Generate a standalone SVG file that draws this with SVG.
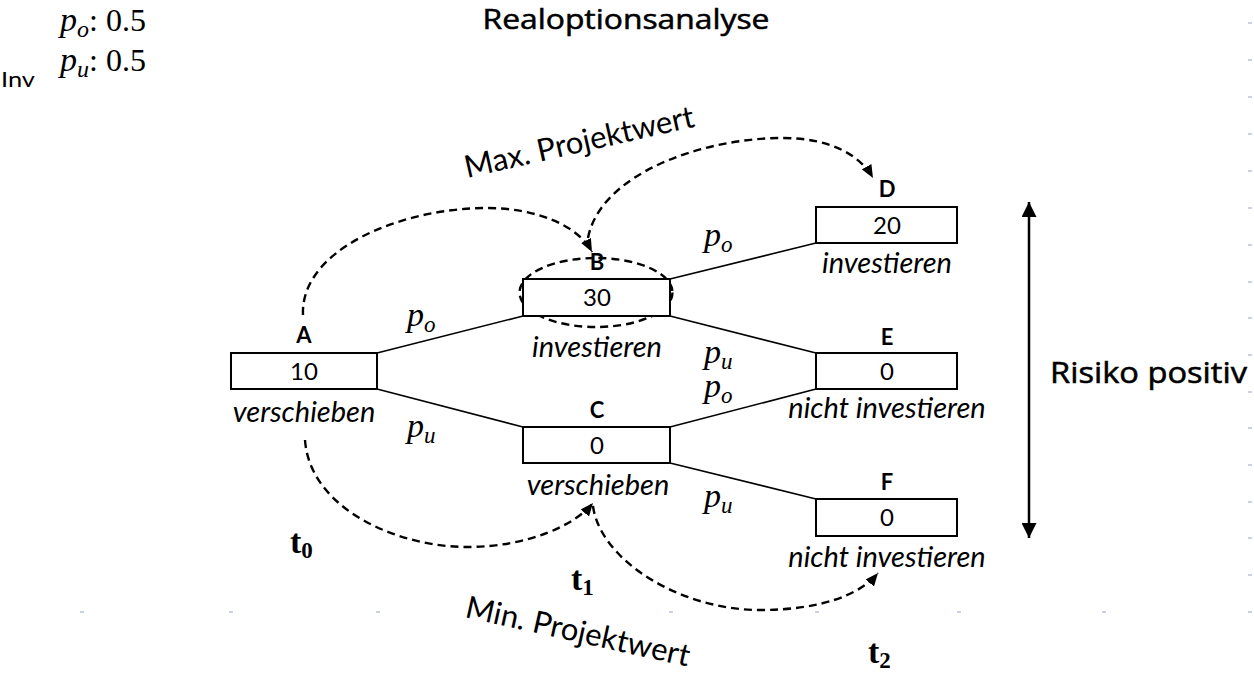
<svg xmlns="http://www.w3.org/2000/svg" width="1254" height="677" viewBox="0 0 1254 677">
  <defs>
    <style>
      .box { fill: #ffffff; stroke: #000000; stroke-width: 2; }
      .edge { fill: none; stroke: #000000; stroke-width: 1.6; }
      .arc { fill: none; stroke: #000000; stroke-width: 2.4; stroke-dasharray: 8 5; }
      .id { font-family: Lato, "Liberation Sans", sans-serif; font-weight: bold; font-size: 22px; text-anchor: middle; fill: #000; }
      .val { font-family: Lato, "Liberation Sans", sans-serif; font-size: 24px; text-anchor: middle; fill: #000; }
      .act { font-family: Lato, "Liberation Sans", sans-serif; font-style: italic; font-size: 29px; text-anchor: middle; fill: #000; }
      .math { font-family: "Liberation Serif", "DejaVu Serif", serif; font-style: italic; font-size: 34px; fill: #000; }
      .num { font-family: "Liberation Serif", "DejaVu Serif", serif; font-style: normal; font-size: 32px; fill: #000; }
      .time { font-family: "Liberation Serif", "DejaVu Serif", serif; font-weight: bold; font-size: 34px; fill: #000; }
      .head { font-family: "Open Sans", "Liberation Sans", sans-serif; font-weight: 400; fill: #000; stroke: #000; stroke-width: 0.55; }
      .note { font-family: Lato, "Liberation Sans", sans-serif; font-size: 31px; fill: #000; }
      .grid { fill: #c9d2e4; }
    </style>
    <marker id="tip" viewBox="0 0 13 11" refX="13" refY="5.5" markerWidth="13" markerHeight="11" markerUnits="userSpaceOnUse" orient="auto">
      <path d="M0,0 L13,5.5 L0,11 z" fill="#000"/>
    </marker>
    <marker id="bigtip" viewBox="0 0 15 15" refX="15" refY="7.5" markerWidth="15" markerHeight="15" markerUnits="userSpaceOnUse" orient="auto-start-reverse">
      <path d="M0,0 L15,7.5 L0,15 z" fill="#000"/>
    </marker>
  </defs>

  <rect x="0" y="0" width="1254" height="677" fill="#ffffff"/>

  <!-- faint slide guide marks -->
  <g id="guides" class="grid">
    <rect x="80" y="611" width="4" height="2"/>
    <rect x="229" y="611" width="4" height="2"/>
    <rect x="376" y="611" width="4" height="2"/>
    <rect x="669" y="611" width="4" height="2"/>
    <rect x="815" y="611" width="4" height="2"/>
    <rect x="957" y="611" width="4" height="2"/>
    <rect x="1102" y="611" width="4" height="2"/>
    <rect x="1248" y="611" width="4" height="2"/>
    <rect x="1248" y="22" width="4" height="2"/>
    <rect x="1248" y="59" width="4" height="2"/>
    <rect x="1248" y="96" width="4" height="2"/>
    <rect x="1248" y="133" width="4" height="2"/>
    <rect x="1248" y="170" width="4" height="2"/>
    <rect x="1248" y="207" width="4" height="2"/>
    <rect x="1248" y="244" width="4" height="2"/>
    <rect x="1248" y="281" width="4" height="2"/>
    <rect x="1248" y="317" width="4" height="2"/>
    <rect x="1248" y="354" width="4" height="2"/>
    <rect x="1248" y="391" width="4" height="2"/>
    <rect x="1248" y="427" width="4" height="2"/>
    <rect x="1248" y="464" width="4" height="2"/>
    <rect x="1248" y="501" width="4" height="2"/>
    <rect x="1248" y="537" width="4" height="2"/>
    <rect x="1248" y="574" width="4" height="2"/>
  </g>

  <!-- title and probabilities -->
  <text class="head" x="626" y="29" font-size="28" text-anchor="middle" textLength="287" lengthAdjust="spacingAndGlyphs">Realoptionsanalyse</text>
  <g id="probabilities">
    <text class="math" x="60" y="31">p<tspan font-size="24" dy="6">o</tspan><tspan class="num" dy="-6">: 0.5</tspan></text>
    <text class="math" x="60" y="71">p<tspan font-size="24" dy="6">u</tspan><tspan class="num" dy="-6">: 0.5</tspan></text>
    <text x="1" y="87" font-family="Lato, 'Liberation Sans', sans-serif" font-size="22" textLength="34" lengthAdjust="spacingAndGlyphs">Inv</text>
  </g>

  <!-- tree edges -->
  <g id="connectors">
    <line class="edge" x1="377" y1="353" x2="523" y2="316"/>
    <line class="edge" x1="377" y1="389" x2="523" y2="427"/>
    <line class="edge" x1="670" y1="279" x2="816" y2="243"/>
    <line class="edge" x1="670" y1="316" x2="816" y2="353"/>
    <line class="edge" x1="670" y1="427" x2="816" y2="389"/>
    <line class="edge" x1="670" y1="463" x2="816" y2="499"/>

    <!-- probability labels on the edges -->
    <text class="math" x="407" y="326">p<tspan font-size="23" dy="6">o</tspan></text>
    <text class="math" x="407" y="437">p<tspan font-size="23" dy="6">u</tspan></text>
    <text class="math" x="704" y="246">p<tspan font-size="23" dy="6">o</tspan></text>
    <text class="math" x="704" y="363">p<tspan font-size="23" dy="6">u</tspan></text>
    <text class="math" x="704" y="397">p<tspan font-size="23" dy="6">o</tspan></text>
    <text class="math" x="704" y="507">p<tspan font-size="23" dy="6">u</tspan></text>

    <!-- dashed decision paths -->
    <path class="arc" d="M303,315 C300,250 400,208 487,208 C535,208 578,225 592,252" marker-end="url(#tip)"/>
    <path class="arc" d="M588,238 C600,175 700,138 783,138 C830,138 860,155 873,178" marker-end="url(#tip)"/>
    <ellipse class="arc" cx="596" cy="292.5" rx="76.5" ry="34.5"/>
    <path class="arc" d="M305,440 C310,510 400,548 470,547 C530,546 575,525 593,503" marker-end="url(#tip)"/>
    <path class="arc" d="M593,506 C600,560 680,610 760,610 C820,610 860,595 878,573" marker-end="url(#tip)"/>

    <!-- risk axis -->
    <line x1="1029" y1="202" x2="1029" y2="538" stroke="#000" stroke-width="2.5" marker-start="url(#bigtip)" marker-end="url(#bigtip)"/>
  </g>

  <!-- nodes -->
  <g id="node-A">
    <rect class="box" x="231" y="353" width="146" height="36"/>
    <text class="id" x="304" y="343">A</text>
    <text class="val" x="304" y="380">10</text>
    <text class="act" x="304" y="422">verschieben</text>
  </g>
  <g id="node-B">
    <rect class="box" x="523" y="279" width="147" height="37"/>
    <text class="id" x="597" y="270">B</text>
    <text class="val" x="597" y="306">30</text>
    <text class="act" x="597" y="357">investieren</text>
  </g>
  <g id="node-C">
    <rect class="box" x="523" y="427" width="147" height="36"/>
    <text class="id" x="597" y="418">C</text>
    <text class="val" x="597" y="454">0</text>
    <text class="act" x="598" y="495">verschieben</text>
  </g>
  <g id="node-D">
    <rect class="box" x="816" y="207" width="141" height="36"/>
    <text class="id" x="887" y="197">D</text>
    <text class="val" x="887" y="234">20</text>
    <text class="act" x="887" y="273">investieren</text>
  </g>
  <g id="node-E">
    <rect class="box" x="816" y="353" width="141" height="36"/>
    <text class="id" x="887" y="345">E</text>
    <text class="val" x="887" y="380">0</text>
    <text class="act" x="887" y="418">nicht investieren</text>
  </g>
  <g id="node-F">
    <rect class="box" x="816" y="499" width="141" height="37"/>
    <text class="id" x="887" y="490">F</text>
    <text class="val" x="887" y="526">0</text>
    <text class="act" x="887" y="567">nicht investieren</text>
  </g>

  <!-- annotations -->
  <text class="note" transform="translate(467,178) rotate(-12.7)">Max. Projektwert</text>
  <text class="note" transform="translate(464,617) rotate(12.5)">Min. Projektwert</text>
  <text class="head" x="1050" y="383" font-size="29" textLength="197" lengthAdjust="spacingAndGlyphs">Risiko positiv</text>

  <!-- time steps -->
  <text class="time" x="290" y="553">t<tspan font-size="23" dy="5">0</tspan></text>
  <text class="time" x="571" y="590">t<tspan font-size="23" dy="5">1</tspan></text>
  <text class="time" x="868" y="663">t<tspan font-size="23" dy="5">2</tspan></text>
</svg>
